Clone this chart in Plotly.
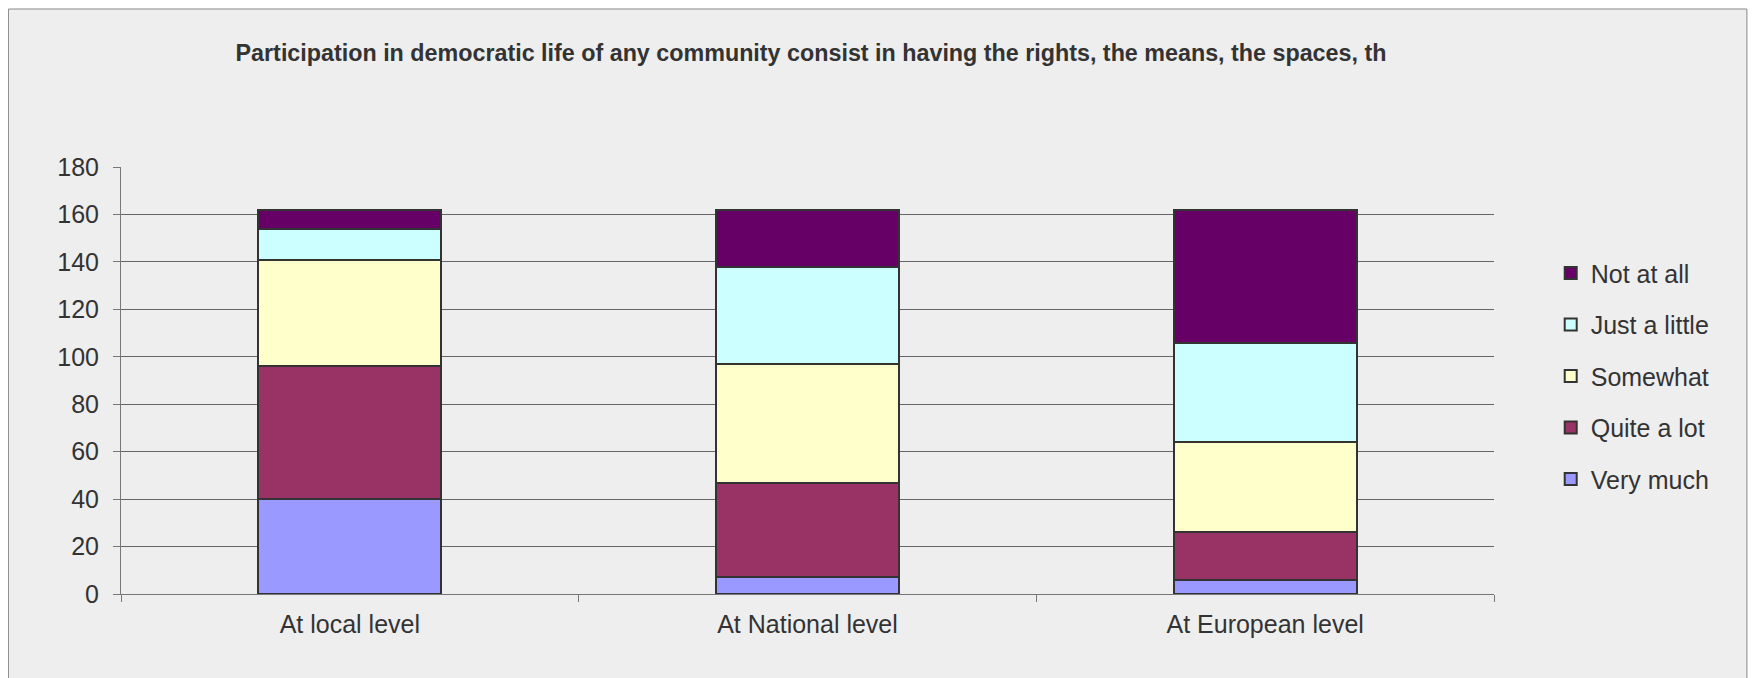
import plotly.graph_objects as go

# categories and answer levels (bottom to top in the stack)
LEVELS = ["At local level", "At National level", "At European level"]

very_much = [40, 7, 6]
quite_a_lot = [56, 40, 20]
somewhat = [45, 50, 38]
just_a_little = [13, 41, 42]
not_at_all = [8, 24, 56]

SERIES = [
    ("Very much", very_much, "#9999FF"),
    ("Quite a lot", quite_a_lot, "#993366"),
    ("Somewhat", somewhat, "#FFFFCC"),
    ("Just a little", just_a_little, "#CCFFFF"),
    ("Not at all", not_at_all, "#660066"),
]

TITLE = ("Participation in democratic life of any community consist in having "
         "the rights, the means, the spaces, th")

FONT = "Liberation Sans, Arial, sans-serif"
TEXT_COLOR = "#333333"

W, H = 1751, 670  # page body keeps an 8px margin

fig = go.Figure()

for i, (name, values, color) in enumerate(SERIES):
    fig.add_trace(go.Bar(
        x=LEVELS,
        y=values,
        name=name,
        legendgroup=name,
        legendrank=len(SERIES) - i,  # top of stack first in legend
        marker=dict(color=color, line=dict(color="#333333", width=2)),
    ))

# chart area background with a thin grey border
fig.add_shape(
    type="rect", xref="paper", yref="paper",
    x0=-0.0820, x1=1.1842, y0=-0.3, y1=1.370,
    fillcolor="#EEEEEE", line=dict(color="#888888", width=1),
    layer="below",
)

fig.update_layout(
    width=W,
    height=H,
    barmode="stack",
    bargap=0.6,
    paper_bgcolor="white",
    plot_bgcolor="#EEEEEE",
    margin=dict(l=113, r=265, t=159, b=84),
    font=dict(family=FONT, size=25, color=TEXT_COLOR),
    title=dict(
        text=TITLE,
        x=803 / W, xref="container", xanchor="center",
        y=1 - 45 / H, yref="container", yanchor="middle",
        font=dict(family=FONT, size=23.3, weight="bold", color=TEXT_COLOR),
    ),
    legend=dict(
        x=1.0413, xanchor="left",
        y=0.805, yanchor="top",
        traceorder="grouped",
        tracegroupgap=16,
        bgcolor="rgba(0,0,0,0)",
        font=dict(size=25, color=TEXT_COLOR),
    ),
    showlegend=True,
)

fig.update_xaxes(
    showgrid=False,
    showline=True, linecolor="#777777", linewidth=1,
    ticks="outside", tickson="boundaries", ticklen=7, tickcolor="#777777",
    ticklabelstandoff=8,
    tickfont=dict(size=25),
)

fig.update_yaxes(
    range=[0, 180], dtick=20,
    showgrid=True, gridcolor="#666666", gridwidth=1,
    zeroline=False,
    showline=True, linecolor="#777777", linewidth=1,
    ticks="outside", ticklen=7, tickcolor="#777777",
    ticklabelstandoff=9,
    tickfont=dict(size=25),
)

fig.write_html("out.html")
